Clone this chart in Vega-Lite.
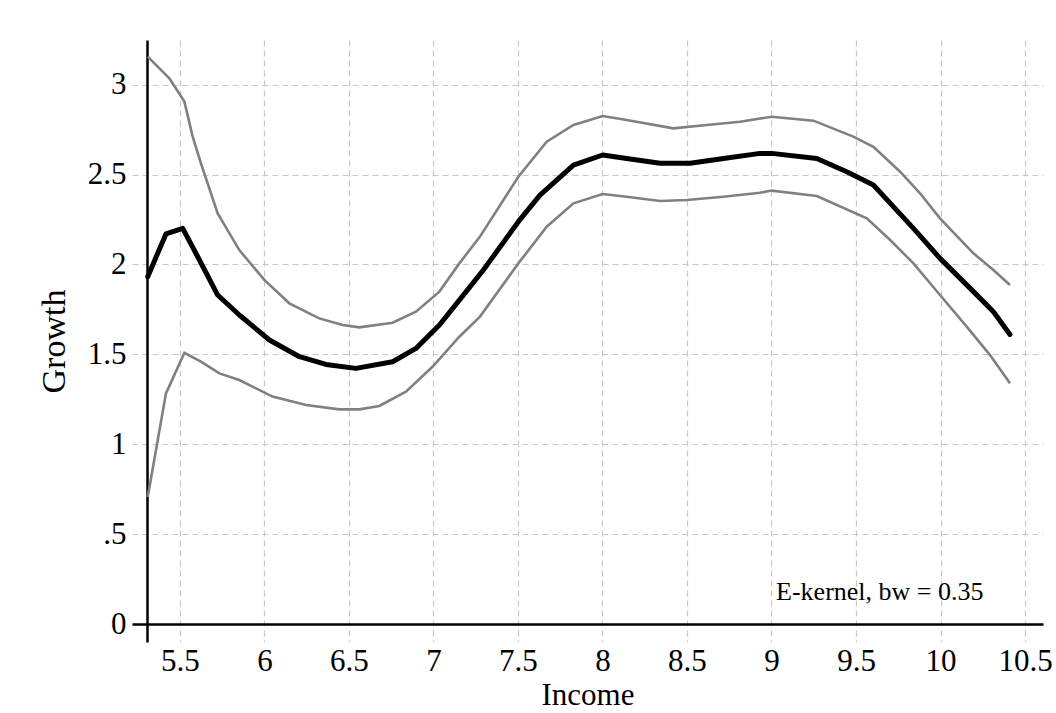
{
  "$schema": "https://vega.github.io/schema/vega-lite/v6.json",
  "autosize": "none",
  "width": 911,
  "height": 602,
  "padding": {"left": 132, "top": 40, "right": 13, "bottom": 71},
  "background": "white",
  "config": {
    "view": {"stroke": null},
    "font": "Liberation Serif",
    "axis": {
      "labelFont": "Liberation Serif",
      "titleFont": "Liberation Serif",
      "labelFontSize": 31,
      "titleFontSize": 31,
      "titleFontWeight": "normal",
      "labelColor": "black",
      "titleColor": "black",
      "ticks": false,
      "domainColor": "black",
      "domainWidth": 2.5,
      "gridColor": "#c8c8c8",
      "gridDash": [6, 4],
      "gridWidth": 1.2
    }
  },
  "datasets": {
    "curves": [
      {"income": 5.309, "growth": 3.156, "series": "upper"},
      {"income": 5.437, "growth": 3.035, "series": "upper"},
      {"income": 5.526, "growth": 2.906, "series": "upper"},
      {"income": 5.575, "growth": 2.711, "series": "upper"},
      {"income": 5.624, "growth": 2.563, "series": "upper"},
      {"income": 5.723, "growth": 2.284, "series": "upper"},
      {"income": 5.851, "growth": 2.080, "series": "upper"},
      {"income": 5.999, "growth": 1.914, "series": "upper"},
      {"income": 6.147, "growth": 1.784, "series": "upper"},
      {"income": 6.324, "growth": 1.700, "series": "upper"},
      {"income": 6.463, "growth": 1.663, "series": "upper"},
      {"income": 6.561, "growth": 1.650, "series": "upper"},
      {"income": 6.758, "growth": 1.676, "series": "upper"},
      {"income": 6.896, "growth": 1.737, "series": "upper"},
      {"income": 7.035, "growth": 1.849, "series": "upper"},
      {"income": 7.153, "growth": 2.006, "series": "upper"},
      {"income": 7.275, "growth": 2.155, "series": "upper"},
      {"income": 7.502, "growth": 2.488, "series": "upper"},
      {"income": 7.670, "growth": 2.683, "series": "upper"},
      {"income": 7.828, "growth": 2.776, "series": "upper"},
      {"income": 8.001, "growth": 2.826, "series": "upper"},
      {"income": 8.143, "growth": 2.804, "series": "upper"},
      {"income": 8.419, "growth": 2.757, "series": "upper"},
      {"income": 8.617, "growth": 2.776, "series": "upper"},
      {"income": 8.814, "growth": 2.794, "series": "upper"},
      {"income": 9.001, "growth": 2.822, "series": "upper"},
      {"income": 9.248, "growth": 2.800, "series": "upper"},
      {"income": 9.484, "growth": 2.711, "series": "upper"},
      {"income": 9.603, "growth": 2.655, "series": "upper"},
      {"income": 9.761, "growth": 2.516, "series": "upper"},
      {"income": 9.879, "growth": 2.396, "series": "upper"},
      {"income": 9.997, "growth": 2.257, "series": "upper"},
      {"income": 10.195, "growth": 2.062, "series": "upper"},
      {"income": 10.313, "growth": 1.969, "series": "upper"},
      {"income": 10.411, "growth": 1.886, "series": "upper"},

      {"income": 5.309, "growth": 0.706, "series": "lower"},
      {"income": 5.417, "growth": 1.283, "series": "lower"},
      {"income": 5.526, "growth": 1.509, "series": "lower"},
      {"income": 5.624, "growth": 1.459, "series": "lower"},
      {"income": 5.733, "growth": 1.394, "series": "lower"},
      {"income": 5.851, "growth": 1.357, "series": "lower"},
      {"income": 6.048, "growth": 1.265, "series": "lower"},
      {"income": 6.246, "growth": 1.218, "series": "lower"},
      {"income": 6.443, "growth": 1.194, "series": "lower"},
      {"income": 6.561, "growth": 1.194, "series": "lower"},
      {"income": 6.679, "growth": 1.213, "series": "lower"},
      {"income": 6.837, "growth": 1.292, "series": "lower"},
      {"income": 6.994, "growth": 1.431, "series": "lower"},
      {"income": 7.153, "growth": 1.598, "series": "lower"},
      {"income": 7.275, "growth": 1.710, "series": "lower"},
      {"income": 7.502, "growth": 2.006, "series": "lower"},
      {"income": 7.670, "growth": 2.210, "series": "lower"},
      {"income": 7.828, "growth": 2.340, "series": "lower"},
      {"income": 8.001, "growth": 2.392, "series": "lower"},
      {"income": 8.143, "growth": 2.377, "series": "lower"},
      {"income": 8.341, "growth": 2.353, "series": "lower"},
      {"income": 8.498, "growth": 2.359, "series": "lower"},
      {"income": 8.716, "growth": 2.377, "series": "lower"},
      {"income": 8.932, "growth": 2.399, "series": "lower"},
      {"income": 9.001, "growth": 2.411, "series": "lower"},
      {"income": 9.268, "growth": 2.381, "series": "lower"},
      {"income": 9.564, "growth": 2.257, "series": "lower"},
      {"income": 9.702, "growth": 2.136, "series": "lower"},
      {"income": 9.840, "growth": 2.006, "series": "lower"},
      {"income": 9.997, "growth": 1.830, "series": "lower"},
      {"income": 10.155, "growth": 1.654, "series": "lower"},
      {"income": 10.293, "growth": 1.496, "series": "lower"},
      {"income": 10.411, "growth": 1.339, "series": "lower"},

      {"income": 5.309, "growth": 1.932, "series": "fit"},
      {"income": 5.417, "growth": 2.170, "series": "fit"},
      {"income": 5.516, "growth": 2.201, "series": "fit"},
      {"income": 5.605, "growth": 2.043, "series": "fit"},
      {"income": 5.723, "growth": 1.830, "series": "fit"},
      {"income": 5.851, "growth": 1.719, "series": "fit"},
      {"income": 6.029, "growth": 1.580, "series": "fit"},
      {"income": 6.207, "growth": 1.487, "series": "fit"},
      {"income": 6.364, "growth": 1.444, "series": "fit"},
      {"income": 6.541, "growth": 1.422, "series": "fit"},
      {"income": 6.758, "growth": 1.459, "series": "fit"},
      {"income": 6.896, "growth": 1.533, "series": "fit"},
      {"income": 7.035, "growth": 1.663, "series": "fit"},
      {"income": 7.153, "growth": 1.802, "series": "fit"},
      {"income": 7.295, "growth": 1.969, "series": "fit"},
      {"income": 7.502, "growth": 2.238, "series": "fit"},
      {"income": 7.630, "growth": 2.386, "series": "fit"},
      {"income": 7.828, "growth": 2.553, "series": "fit"},
      {"income": 8.001, "growth": 2.609, "series": "fit"},
      {"income": 8.143, "growth": 2.590, "series": "fit"},
      {"income": 8.341, "growth": 2.563, "series": "fit"},
      {"income": 8.519, "growth": 2.563, "series": "fit"},
      {"income": 8.716, "growth": 2.590, "series": "fit"},
      {"income": 8.932, "growth": 2.618, "series": "fit"},
      {"income": 9.001, "growth": 2.618, "series": "fit"},
      {"income": 9.268, "growth": 2.590, "series": "fit"},
      {"income": 9.445, "growth": 2.516, "series": "fit"},
      {"income": 9.603, "growth": 2.442, "series": "fit"},
      {"income": 9.721, "growth": 2.322, "series": "fit"},
      {"income": 9.840, "growth": 2.201, "series": "fit"},
      {"income": 9.997, "growth": 2.034, "series": "fit"},
      {"income": 10.195, "growth": 1.849, "series": "fit"},
      {"income": 10.313, "growth": 1.737, "series": "fit"},
      {"income": 10.411, "growth": 1.611, "series": "fit"}
    ],
    "note": [
      {"income": 9.027, "growth": 0.133, "label": "E-kernel, bw = 0.35"}
    ]
  },
  "layer": [
    {
      "data": {"name": "curves"},
      "transform": [{"filter": "datum.series !== 'fit'"}],
      "mark": {"type": "line", "color": "#808080", "strokeWidth": 2.6, "clip": false},
      "encoding": {
        "x": {
          "field": "income",
          "type": "quantitative",
          "scale": {"domain": [5.216, 10.6065], "nice": false, "zero": false},
          "axis": {
            "title": "Income",
            "titleFontSize": 31,
            "values": [5.5, 6, 6.5, 7, 7.5, 8, 8.5, 9, 9.5, 10, 10.5],
            "labelExpr": "datum.value + ''",
            "offset": -18,
            "labelPadding": 22,
            "titlePadding": 4,
            "labelFlush": false,
            "labelOverlap": false
          }
        },
        "y": {
          "field": "growth",
          "type": "quantitative",
          "scale": {"domain": [-0.1001, 3.2487], "nice": false, "zero": false},
          "axis": {
            "title": "Growth",
            "titleFontSize": 34,
            "values": [0, 0.5, 1, 1.5, 2, 2.5, 3],
            "labelExpr": "datum.value == 0.5 ? '.5' : datum.value + ''",
            "offset": -15,
            "labelPadding": 21,
            "titlePadding": 16,
            "labelFlush": false,
            "labelOverlap": false
          }
        },
        "detail": {"field": "series", "type": "nominal"}
      }
    },
    {
      "data": {"name": "curves"},
      "transform": [{"filter": "datum.series === 'fit'"}],
      "mark": {"type": "line", "color": "black", "strokeWidth": 5, "strokeJoin": "round", "strokeCap": "round"},
      "encoding": {
        "x": {"field": "income", "type": "quantitative"},
        "y": {"field": "growth", "type": "quantitative"}
      }
    },
    {
      "data": {"name": "note"},
      "mark": {"type": "text", "align": "left", "baseline": "alphabetic", "font": "Liberation Serif", "fontSize": 26, "color": "black"},
      "encoding": {
        "x": {"field": "income", "type": "quantitative"},
        "y": {"field": "growth", "type": "quantitative"},
        "text": {"field": "label"}
      }
    }
  ]
}
